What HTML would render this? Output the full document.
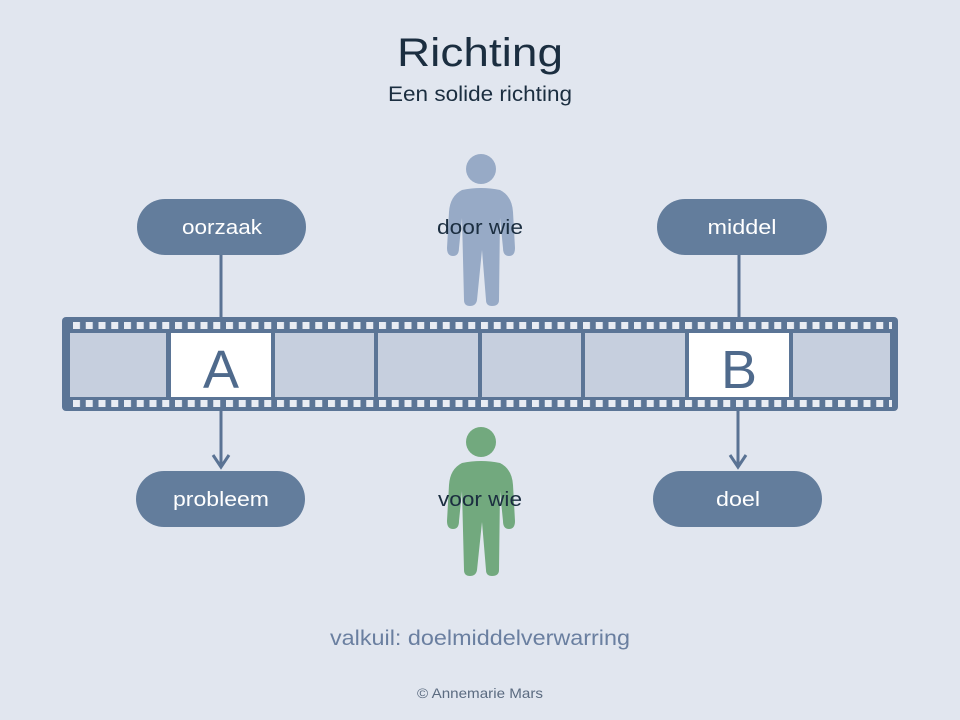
<!DOCTYPE html>
<html><head><meta charset="utf-8"><style>
body{margin:0;background:#e1e6ef;}
svg{display:block}
text{font-family:"Liberation Sans","DejaVu Sans",sans-serif}
</style></head><body>
<svg width="960" height="720" viewBox="0 0 960 720" xmlns="http://www.w3.org/2000/svg">
<defs>
<pattern id="pf" x="73" y="322" width="12.75" height="7" patternUnits="userSpaceOnUse">
<rect x="0" y="0" width="7" height="7" fill="#e8ecf3"/>
</pattern>
<pattern id="pf2" x="73" y="400" width="12.75" height="7" patternUnits="userSpaceOnUse">
<rect x="0" y="0" width="7" height="7" fill="#e8ecf3"/>
</pattern>
</defs>
<rect width="960" height="720" fill="#e1e6ef"/>
<g lengthAdjust="spacingAndGlyphs">
<text x="480" y="66" font-size="40" fill="#1b2e40" text-anchor="middle" textLength="166" lengthAdjust="spacingAndGlyphs">Richting</text>
<text x="480" y="101" font-size="21" fill="#1b2e40" text-anchor="middle" textLength="184" lengthAdjust="spacingAndGlyphs">Een solide richting</text>
</g>

<g stroke="#5a7394" stroke-width="3" fill="none">
<line x1="221" y1="255" x2="221" y2="320"/>
<line x1="739" y1="255" x2="739" y2="320"/>
<line x1="221" y1="408" x2="221" y2="467"/>
<line x1="738" y1="408" x2="738" y2="467"/>
<polyline points="213,455 221,467 229,455"/>
<polyline points="730,455 738,467 746,455"/>
</g>

<rect x="62" y="317" width="836" height="94" rx="4" fill="#5b7596"/>
<rect x="73" y="322" width="819" height="7" fill="url(#pf)"/>
<rect x="73" y="400" width="819" height="7" fill="url(#pf2)"/>
<g fill="#c6cfde">
<rect x="70" y="333" width="96" height="64"/>
<rect x="275" y="333" width="99" height="64"/>
<rect x="378" y="333" width="100" height="64"/>
<rect x="482" y="333" width="99" height="64"/>
<rect x="585" y="333" width="100" height="64"/>
<rect x="793" y="333" width="97" height="64"/>
</g>
<rect x="171" y="333" width="100" height="64" fill="#fff"/>
<rect x="689" y="333" width="100" height="64" fill="#fff"/>
<text x="221" y="388" font-size="54" fill="#4f6a8c" text-anchor="middle">A</text>
<text x="739" y="388" font-size="54" fill="#4f6a8c" text-anchor="middle">B</text>

<g fill="#637d9c">
<rect x="137" y="199" width="169" height="56" rx="28"/>
<rect x="657" y="199" width="170" height="56" rx="28"/>
<rect x="136" y="471" width="169" height="56" rx="28"/>
<rect x="653" y="471" width="169" height="56" rx="28"/>
</g>
<g font-size="20" fill="#fff" text-anchor="middle">
<text x="222" y="234" textLength="80" lengthAdjust="spacingAndGlyphs">oorzaak</text>
<text x="742" y="234" textLength="69" lengthAdjust="spacingAndGlyphs">middel</text>
<text x="221" y="506" textLength="96" lengthAdjust="spacingAndGlyphs">probleem</text>
<text x="738" y="506" textLength="44" lengthAdjust="spacingAndGlyphs">doel</text>
</g>

<g fill="#97aac6">
<circle cx="481" cy="169" r="15"/>
<path d="M462,190 Q481,186 500,190 Q512,196 513,212 L515,248 Q515,256 509,256 Q503,256 503,248 L500,218 L499,300 Q499,306 492,306 Q486,306 486,300 L482,250 L477,300 Q476,306 470,306 Q464,306 464,300 L462,218 L459,248 Q459,256 453,256 Q447,256 447,248 L449,212 Q450,196 462,190Z"/>
</g>
<g fill="#72a97e">
<circle cx="481" cy="442" r="15"/>
<path d="M462,463 Q481,459 500,463 Q512,469 513,485 L515,521 Q515,529 509,529 Q503,529 503,521 L500,491 L499,570 Q499,576 492,576 Q486,576 486,570 L482,522 L477,570 Q476,576 470,576 Q464,576 464,570 L462,491 L459,521 Q459,529 453,529 Q447,529 447,521 L449,485 Q450,469 462,463Z"/>
</g>
<g font-size="20" fill="#1b2e40" text-anchor="middle">
<text x="480" y="234" textLength="86" lengthAdjust="spacingAndGlyphs">door wie</text>
<text x="480" y="506" textLength="84" lengthAdjust="spacingAndGlyphs">voor wie</text>
</g>

<text x="480" y="645" font-size="21" fill="#6a7fa0" text-anchor="middle" textLength="300" lengthAdjust="spacingAndGlyphs">valkuil: doelmiddelverwarring</text>
<text x="480" y="698" font-size="14" fill="#5b6b80" text-anchor="middle" textLength="126" lengthAdjust="spacingAndGlyphs">© Annemarie Mars</text>
</svg>
</body></html>
